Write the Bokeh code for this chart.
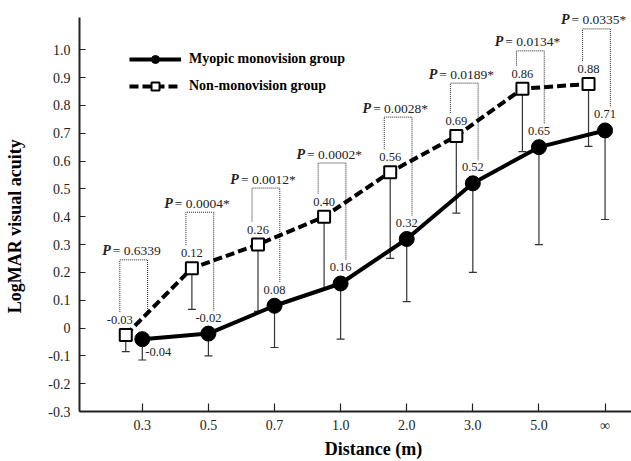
from bokeh.plotting import figure
from bokeh.models import Range1d, FixedTicker, Legend, LegendItem, ColumnDataSource, LabelSet
from bokeh.core.properties import value
from bokeh.embed import file_html
from bokeh.resources import INLINE

# ---- data ----
distances = ["0.3", "0.5", "0.7", "1.0", "2.0", "3.0", "5.0", "\u221e"]
myopic_vals = [-0.04, -0.02, 0.08, 0.16, 0.32, 0.52, 0.65, 0.71]
myopic_labels = ["-0.04", "-0.02", "0.08", "0.16", "0.32", "0.52", "0.65", "0.71"]
myopic_lower = [-0.115, -0.10, -0.07, -0.04, 0.095, 0.20, 0.30, 0.39]
non_vals = [-0.025, 0.215, 0.30, 0.40, 0.56, 0.69, 0.86, 0.877]
non_labels = ["-0.03", "0.12", "0.26", "0.40", "0.56", "0.69", "0.86", "0.88"]
non_lower = [-0.085, 0.067, 0.06, 0.14, 0.25, 0.413, 0.634, 0.653]
p_values = ["= 0.6339", "= 0.0004*", "= 0.0012*", "= 0.0002*", "= 0.0028*",
            "= 0.0189*", "= 0.0134*", "= 0.0335*"]
bracket_top = [0.245, 0.416, 0.503, 0.593, 0.758, 0.88, 0.996, 1.075]
y_ticks = [-0.3, -0.2, -0.1, 0.0, 0.1, 0.2, 0.3, 0.4, 0.5, 0.6, 0.7, 0.8, 0.9, 1.0]
y_tick_labels = ["-0.3", "-0.2", "-0.1", "0", "0.1", "0.2", "0.3", "0.4", "0.5",
                 "0.6", "0.7", "0.8", "0.9", "1.0"]
x_title = "Distance (m)"
y_title = "LogMAR visual acuity"

# ---- layout helpers ----
n = len(distances)
x_myo = list(range(n))
x_non = [i - 0.25 for i in range(n)]
SERIF = value("Liberation Serif")
DY = 0.083  # leg clearance above point (data units)
NBSP = "\u00a0"

p = figure(width=631, height=461, output_backend="svg", toolbar_location=None,
           x_range=Range1d(-0.95, 7.40), y_range=Range1d(-0.3, 1.177),
           min_border_left=79, min_border_right=0, min_border_top=0,
           min_border_bottom=49)
p.outline_line_color = None
p.xgrid.visible = False
p.ygrid.visible = False
p.background_fill_color = "white"

# axes
for ax in (p.xaxis[0], p.yaxis[0]):
    ax.axis_line_width = 2
    ax.axis_line_color = "#222222"
    ax.major_tick_line_color = "#222222"
    ax.major_tick_line_width = 1.2
    ax.major_tick_out = 0
    ax.minor_tick_line_color = None
    ax.major_label_text_font = "Liberation Serif"
    ax.major_label_text_font_size = "14px"
    ax.major_label_text_color = "#222222"
    ax.axis_label_text_font = "Liberation Serif"
    ax.axis_label_text_font_style = "bold"
    ax.axis_label_text_font_size = "18px"
    ax.axis_label_text_color = "black"

p.xaxis.ticker = FixedTicker(ticks=x_myo)
p.xaxis.major_label_overrides = {i: lab for i, lab in enumerate(distances)}
p.xaxis.major_tick_in = 8
p.xaxis.major_label_standoff = 6
p.xaxis.axis_label = NBSP * 8 + x_title
p.xaxis.axis_label_standoff = 3

p.yaxis.ticker = FixedTicker(ticks=y_ticks)
p.yaxis.major_label_overrides = {t: lab for t, lab in zip(y_ticks, y_tick_labels)}
p.yaxis.major_tick_in = 6
p.yaxis.major_label_standoff = 9
p.yaxis.axis_label = y_title + NBSP * 9
p.yaxis.axis_label_standoff = 20
p.yaxis.bounds = (-0.3, 1.115)

# P-value brackets (dotted)
bxs, bys = [], []
for i in range(n):
    left = i - 0.34
    right = i + 0.08
    bxs.append([left, left, right, right])
    bys.append([non_vals[i] + DY, bracket_top[i], bracket_top[i], myopic_vals[i] + DY])
p.multi_line(xs=bxs, ys=bys, line_color="#222222", line_width=1, line_dash="1 1")

# error bars (downward)
p.segment(x0=x_myo, y0=myopic_vals, x1=x_myo, y1=myopic_lower, line_color="#333333", line_width=1.2)
p.scatter(x=x_myo, y=myopic_lower, marker="dash", size=8, line_color="#333333", line_width=1.2)
p.segment(x0=x_non, y0=non_vals, x1=x_non, y1=non_lower, line_color="#333333", line_width=1.2)
p.scatter(x=x_non, y=non_lower, marker="dash", size=8, line_color="#333333", line_width=1.2)

# series
non_line = p.line(x_non, non_vals, line_color="black", line_width=4, line_dash="9 4")
myo_line = p.line(x_myo, myopic_vals, line_color="black", line_width=4)
non_pts = p.scatter(x_non, non_vals, marker="square", size=12, fill_color="white",
                    line_color="black", line_width=2)
myo_pts = p.scatter(x_myo, myopic_vals, marker="circle", size=15, fill_color="black",
                    line_color="black")

# value labels
myo_dx = [16] + [0] * (n - 1)
myo_dy = [13] + [-16] * (n - 1)
myo_src = ColumnDataSource(dict(x=x_myo, y=myopic_vals, t=myopic_labels, dx=myo_dx, dy=myo_dy))
p.text(x="x", y="y", text="t", x_offset="dx", y_offset="dy", source=myo_src,
       text_font=SERIF, text_font_size="12.5px", text_align="center",
       text_baseline="middle", text_color="#222222")
non_dx = [-6] + [0] * (n - 1)
non_src = ColumnDataSource(dict(x=x_non, y=non_vals, t=non_labels, dx=non_dx))
p.text(x="x", y="y", text="t", x_offset="dx", y_offset=-15, source=non_src,
       text_font=SERIF, text_font_size="12.5px", text_align="center",
       text_baseline="middle", text_color="#222222")

# P-value texts
pc = [i - 0.13 for i in range(n)]
anchor_dx = [-21 if not s.endswith("*") else -25 for s in p_values]
p_src = ColumnDataSource(dict(x=pc, y=bracket_top, t=p_values, dx=anchor_dx,
                              dxp=[d - 2 for d in anchor_dx], P=["P"] * n))
p.add_layout(LabelSet(x="x", y="y", text="P", x_offset="dxp", y_offset=9, source=p_src,
                      text_font="Liberation Serif", text_font_size="14px",
                      text_font_style="bold italic", text_align="right",
                      text_baseline="middle", text_color="#222222"))
p.add_layout(LabelSet(x="x", y="y", text="t", x_offset="dx", y_offset=9, source=p_src,
                      text_font="Liberation Serif", text_font_size="13.5px",
                      text_align="left", text_baseline="middle", text_color="#222222"))

# legend
legend = Legend(items=[LegendItem(label="Myopic monovision group", renderers=[myo_line, myo_pts]),
                       LegendItem(label="Non-monovision group", renderers=[non_line, non_pts])],
                location=(50, 315), glyph_width=52, glyph_height=20, label_height=20,
                spacing=7, padding=0, margin=0, label_standoff=8,
                label_text_font="Liberation Serif", label_text_font_style="bold",
                label_text_font_size="14px", label_text_color="black",
                background_fill_alpha=0, border_line_alpha=0)
p.add_layout(legend)

open("out.html", "w").write(file_html(p, INLINE))
